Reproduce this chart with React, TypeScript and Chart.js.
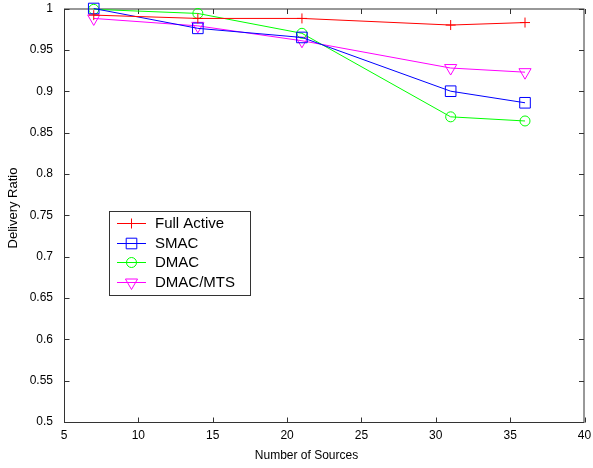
import { useEffect, useRef } from 'react';
import { Chart, registerables } from 'chart.js';

Chart.register(...registerables);

const sources = [7, 14, 21, 31, 36];
const fullActive = [0.992, 0.988, 0.988, 0.98, 0.983];
const smac = [1.0, 0.976, 0.965, 0.9, 0.886];
const dmac = [0.999, 0.994, 0.97, 0.869, 0.864];
const dmacMts = [0.988, 0.979, 0.961, 0.928, 0.923];
const seriesNames = ['Full Active', 'SMAC', 'DMAC', 'DMAC/MTS'];
const xTicks = [5, 10, 15, 20, 25, 30, 35, 40];
const yTicks = [0.5, 0.55, 0.6, 0.65, 0.7, 0.75, 0.8, 0.85, 0.9, 0.95, 1];
const xTitle = 'Number of Sources';
const yTitle = 'Delivery Ratio';

const FONT = '"Liberation Sans", Arial, Helvetica, sans-serif';
const AXIS_COLOR = '#333333';

type MarkerStyle = 'cross' | 'rect' | 'circle' | 'triangleDown';

const seriesStyles: { color: string; marker: MarkerStyle; radius: number }[] = [
  { color: '#ff0000', marker: 'cross', radius: 5 },
  { color: '#0000ff', marker: 'rect', radius: 7.5 },
  { color: '#00ff00', marker: 'circle', radius: 5 },
  { color: '#ff00ff', marker: 'triangleDown', radius: 7 },
];
const seriesValues = [fullActive, smac, dmac, dmacMts];

function drawMarker(ctx: CanvasRenderingContext2D, style: MarkerStyle, x: number, y: number, r: number, color: string) {
  ctx.save();
  ctx.strokeStyle = color;
  ctx.lineWidth = 1;
  ctx.beginPath();
  if (style === 'cross') {
    ctx.moveTo(x - r, y);
    ctx.lineTo(x + r, y);
    ctx.moveTo(x, y - r);
    ctx.lineTo(x, y + r);
  } else if (style === 'rect') {
    const s = r * Math.SQRT1_2;
    ctx.rect(x - s, y - s, 2 * s, 2 * s);
  } else if (style === 'circle') {
    ctx.arc(x, y, r, 0, Math.PI * 2);
  } else {
    const h = r * Math.sin(Math.PI / 3);
    ctx.moveTo(x, y + r);
    ctx.lineTo(x - h, y - r / 2);
    ctx.lineTo(x + h, y - r / 2);
    ctx.closePath();
  }
  ctx.stroke();
  ctx.restore();
}

const framePlugin = {
  id: 'matlabFrame',
  beforeDatasetsDraw(chart: any) {
    const { ctx, chartArea } = chart;
    const xs = chart.scales.x;
    const ys = chart.scales.y;
    const l = chartArea.left + 0.5;
    const r = chartArea.right - 0.5;
    const t = chartArea.top + 0.5;
    const b = chartArea.bottom + 0.5;
    ctx.save();
    ctx.strokeStyle = AXIS_COLOR;
    ctx.lineWidth = 1;
    ctx.strokeRect(l, t, r - l, b - t);
    const tl = 5;
    ctx.beginPath();
    xTicks.forEach((v) => {
      const px = Math.round(xs.getPixelForValue(v)) + 0.5;
      ctx.moveTo(px, b);
      ctx.lineTo(px, b - tl);
      ctx.moveTo(px, t);
      ctx.lineTo(px, t + tl);
    });
    yTicks.forEach((v) => {
      const py = Math.round(ys.getPixelForValue(v)) + 0.5;
      ctx.moveTo(l, py);
      ctx.lineTo(l + tl, py);
      ctx.moveTo(r, py);
      ctx.lineTo(r - tl, py);
    });
    ctx.stroke();
    ctx.restore();
  },
  afterDraw(chart: any) {
    const { ctx } = chart;
    ctx.save();
    ctx.fillStyle = '#000';
    ctx.textAlign = 'center';
    ctx.textBaseline = 'middle';
    ctx.font = `12px ${FONT}`;
    ctx.fillText(xTitle, 306.5, 456);
    ctx.save();
    ctx.translate(13.5, 208);
    ctx.rotate(-Math.PI / 2);
    ctx.font = `13px ${FONT}`;
    ctx.fillText(yTitle, 0, 0);
    ctx.restore();

    const bx = 109.5, by = 211.5, bw = 141, bh = 84;
    ctx.fillStyle = '#ffffff';
    ctx.fillRect(bx, by, bw, bh);
    ctx.strokeStyle = AXIS_COLOR;
    ctx.lineWidth = 1;
    ctx.strokeRect(bx, by, bw, bh);
    seriesNames.forEach((name, i) => {
      const st = seriesStyles[i];
      const y = Math.round(223 + i * 19.5) + 0.5;
      ctx.strokeStyle = st.color;
      ctx.beginPath();
      ctx.moveTo(117, y);
      ctx.lineTo(146, y);
      ctx.stroke();
      drawMarker(ctx, st.marker, 131.5, y, st.radius, st.color);
      ctx.fillStyle = '#000';
      ctx.font = `15px ${FONT}`;
      ctx.textAlign = 'left';
      ctx.textBaseline = 'middle';
      ctx.fillText(name, 155, y);
    });
    ctx.restore();
  },
};

export default function App() {
  const canvasRef = useRef<HTMLCanvasElement | null>(null);

  useEffect(() => {
    if (!canvasRef.current) return;
    Chart.defaults.font.family = FONT;
    const datasets = seriesNames.map((name, i) => {
      const st = seriesStyles[i];
      return {
        label: name,
        data: sources.map((x, j) => ({ x, y: seriesValues[i][j] })),
        borderColor: st.color,
        backgroundColor: 'transparent',
        borderWidth: 1,
        pointStyle: st.marker === 'triangleDown' ? 'triangle' : st.marker,
        pointRotation: st.marker === 'triangleDown' ? 180 : 0,
        pointRadius: st.radius,
        pointBorderColor: st.color,
        pointBackgroundColor: 'transparent',
        pointBorderWidth: 1,
        tension: 0,
        clip: false as any,
      };
    });
    const chart = new Chart(canvasRef.current, {
      type: 'line',
      data: { datasets: datasets as any },
      options: {
        animation: false,
        responsive: false,
        devicePixelRatio: 1,
        layout: { padding: { top: 8, right: 7, left: 0, bottom: 0 } },
        plugins: { legend: { display: false }, tooltip: { enabled: false } },
        scales: {
          x: {
            type: 'linear',
            min: 5,
            max: 40,
            afterBuildTicks: (s: any) => {
              s.ticks = xTicks.map((v) => ({ value: v }));
            },
            afterFit: (s: any) => {
              s.height = 46;
              s.paddingLeft = 0;
              s.paddingRight = 0;
            },
            grid: { display: false, drawTicks: false },
            border: { display: false },
            ticks: {
              color: '#000',
              font: { size: 12, family: FONT },
              padding: 6,
              maxRotation: 0,
              autoSkip: false,
              callback: (v: any) => String(v),
            },
          },
          y: {
            type: 'linear',
            min: 0.5,
            max: 1,
            afterBuildTicks: (s: any) => {
              s.ticks = yTicks.map((v) => ({ value: v }));
            },
            afterFit: (s: any) => {
              s.width = 64;
              s.paddingTop = 0;
              s.paddingBottom = 0;
            },
            grid: { display: false, drawTicks: false },
            border: { display: false },
            ticks: {
              color: '#000',
              font: { size: 12, family: FONT },
              padding: 11,
              autoSkip: false,
              callback: (v: any) => String(Math.round(Number(v) * 100) / 100),
            },
          },
        },
      },
      plugins: [framePlugin],
    });
    return () => chart.destroy();
  }, []);

  return (
    <div style={{ position: 'absolute', left: 0, top: 0, width: 593, height: 468, background: '#fff' }}>
      <canvas ref={canvasRef} width={593} height={468} style={{ display: 'block', width: 593, height: 468 }} />
    </div>
  );
}
